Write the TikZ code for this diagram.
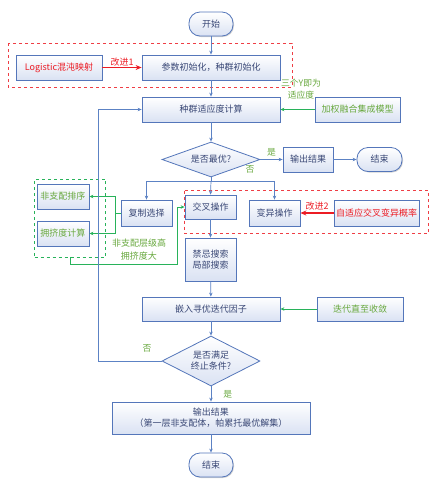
\documentclass[tikz,border=0pt]{standalone}
\usepackage{fontspec}
\setmainfont{Noto Sans CJK SC}
\usepackage{xcolor}
\usepackage{tikz}
\usetikzlibrary{arrows.meta,positioning,calc,fit,shapes.geometric,shadows}

\definecolor{boxblue}{RGB}{84,118,186}
\definecolor{boxfill}{RGB}{218,226,243}
\definecolor{txtblue}{RGB}{58,72,118}
\definecolor{lineblue}{RGB}{92,130,196}
\definecolor{lgreen}{RGB}{40,178,90}
\definecolor{tgreen}{RGB}{104,168,62}
\definecolor{tred}{RGB}{236,28,36}

\begin{document}
\begin{tikzpicture}[
      x=1pt, y=-1pt,
      font=\fontsize{9}{11}\selectfont,
      box/.style={draw=boxblue, line width=0.8pt, top color=white, bottom color=boxfill,
                  text=txtblue, align=center, inner sep=1pt, minimum height=25pt},
      term/.style={box, rounded corners=11pt, minimum width=44pt, minimum height=24pt,
                   drop shadow={shadow xshift=1pt, shadow yshift=-1pt, opacity=0.35}},
      cond/.style={diamond, draw=boxblue, line width=0.8pt, top color=white, bottom color=boxfill,
                   text=txtblue, align=center, inner sep=0pt, aspect=2},
      arr/.style={-{Stealth[length=4pt,width=3.5pt]}, draw=lineblue, line width=0.7pt},
      garr/.style={arr, draw=lgreen},
      rarr/.style={-{Stealth[length=6pt,width=5pt]}, draw=tred, line width=1.1pt},
      rdash/.style={draw=tred!85, dashed, line width=0.7pt},
      gdash/.style={draw=lgreen, dashed, line width=0.7pt},
      lbl/.style={font=\fontsize{8.8}{12}\selectfont, text=tgreen, inner sep=0pt, align=center}
    ]
    \useasboundingbox (0,0) rectangle (435,483);
    \node[term] (start) at (211,24) {开始};
    \node[box, minimum width=138pt] (init) at (211,67.5) {参数初始化，种群初始化};
    \node[box, minimum width=86pt, text=tred] (logi) at (59,67.5) {Logistic混沌映射};
    \node[box, minimum width=138pt] (fitc) at (211,109.5) {种群适应度计算};
    \node[box, minimum width=85pt, text=tgreen] (wmodel) at (357.5,109.5) {加权融合集成模型};
    \node[cond, minimum width=98pt, minimum height=35pt] (opt) at (211,159.5) {是否最优?};
    \node[box, minimum width=50pt] (out1) at (308,159.5) {输出结果};
    \node[term, minimum width=45pt] (end1) at (379.5,159.5) {结束};
    \node[box, minimum width=51pt, minimum height=26pt] (copy) at (146.5,213) {复制选择};
    \node[box, minimum width=51pt, minimum height=24pt] (cross) at (210.5,207) {交叉操作};
    \node[box, minimum width=51pt, minimum height=26pt] (mut) at (274.5,213) {变异操作};
    \node[box, minimum width=85pt, minimum height=26pt, text=tred] (adapt) at (376.5,213) {自适应交叉变异概率};
    \node[box, minimum width=52pt, text=tgreen] (sort) at (63,196.5) {非支配排序};
    \node[box, minimum width=52pt, text=tgreen] (crowd) at (63,233.5) {拥挤度计算};
    \node[box, minimum width=51pt, minimum height=43pt] (tabu) at (210.5,259.5) {禁忌搜索\\局部搜索};
    \node[box, minimum width=138pt, minimum height=24pt] (embed) at (211,309) {嵌入寻优迭代因子};
    \node[box, minimum width=86pt, minimum height=24pt, text=tgreen] (iter) at (360,309) {迭代直至收敛};
    \node[cond, minimum width=98pt, minimum height=50pt] (stop) at (211,361) {是否满足\\终止条件?};
    \node[box, minimum width=198pt, minimum height=32pt] (out2) at (211,418) {输出结果\\（第一层非支配体，帕累托最优解集）};
    \node[term] (end2) at (211,465) {结束};
    % dashed groups
    \draw[rdash] (8,43) rectangle (292,87);
    \draw[rdash] ($(cross.north west)+(0,-4)$) rectangle ($(adapt.east|-mut.south)+(9,7)$);
    \node[gdash, fit=(sort)(crowd), inner xsep=5pt, inner ysep=5pt, xshift=7pt, yshift=-3pt,
          minimum width=71pt, minimum height=78pt] (gbox) {};
    % main flow
    \draw[arr] (start) -- (init);
    \draw[rarr] (logi) -- node[above=1pt, text=tred, inner sep=0pt]{改进1} (init);
    \draw[arr] (init) -- (fitc);
    \draw[garr] (wmodel) -- (fitc);
    \node[lbl] (ylbl) at (301,89) {三个Y即为\\适应度};
    \draw[arr] (fitc) -- (opt);
    \draw[arr] (opt) -- node[lbl, above=3pt]{是} (out1);
    \node[lbl] (no1) at (250,169) {否};
    \draw[arr] (out1) -- (end1);
    \coordinate (sp) at (211,181);
    \draw[draw=lineblue, line width=0.7pt] (opt.south) -- (sp);
    \draw[arr] (sp) -| (copy.north);
    \draw[arr] (sp) -- (cross.north);
    \draw[arr] (sp) -| (mut.north);
    \draw[rarr] (adapt) -- node[above=2pt, text=tred, inner sep=0pt]{改进2} (mut);
    % non-dominated sorting
    \coordinate (gb) at (115,213);
    \draw[draw=lgreen, line width=0.7pt] (copy.west) -- (gb);
    \draw[garr] (gb) |- (sort.east);
    \draw[garr] (gb) |- (crowd.east);
    \draw[garr] (gbox.south) -- ++(0,7) -| ($(cross.west)+(-7,0)$) -- (cross.west);
    \node[lbl, font=\fontsize{9}{13}\selectfont] (rank) at (139,250) {非支配层级高\\拥挤度大};
    \draw[arr] (cross) -- (tabu);
    \draw[arr] (tabu) -- (embed);
    \draw[garr] (iter) -- (embed);
    \draw[arr] (embed) -- (stop);
    % loop back
    \draw[arr] (stop.west) -- ++(-63,0) |- (fitc.west);
    \node[lbl] (no2) at (147,348) {否};
    \draw[arr] (stop) -- node[lbl, right=12pt]{是} (out2);
    \draw[arr] (out2) -- (end2);
  \end{tikzpicture}
\end{document}
